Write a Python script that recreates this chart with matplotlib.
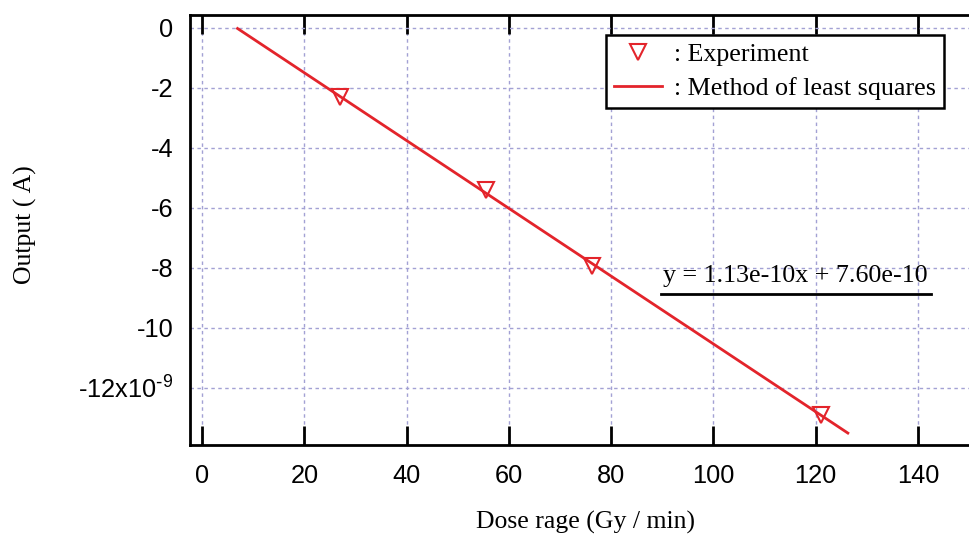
#%%
import matplotlib
matplotlib.use("Agg")
import matplotlib.pyplot as plt
from matplotlib.lines import Line2D
from matplotlib.ticker import FixedLocator, FixedFormatter

plt.rcParams["axes.unicode_minus"] = False

# %% data
dose = [26.9, 55.6, 76.3, 121.1]                    # Gy / min
output = [-2.32e-9, -5.40e-9, -7.95e-9, -12.90e-9]  # A

slope = -1.13e-10
intercept = 7.60e-10
fit_x = [6.9, 126.3]
fit_y = [slope * v + intercept for v in fit_x]

x_ticks = [0, 20, 40, 60, 80, 100, 120, 140]
y_ticks = [0, -2e-9, -4e-9, -6e-9, -8e-9, -10e-9, -12e-9]
y_labels = ["0", "-2", "-4", "-6", "-8", "-10", r"-12x10$^{\mathregular{\text{-}9}}$"]
eq_text = "y = 1.13e-10x + 7.60e-10"

red = "#e3242b"
sans = "Liberation Sans"
serif = "Liberation Serif"

# %%
fig = plt.figure(figsize=(9.69, 5.38), dpi=100)
ax = fig.add_axes([190 / 969, 93 / 538, 779 / 969, 430 / 538])

ax.plot(fit_x, fit_y, "-", color=red, lw=2)
ax.plot(dose, output, "v", mfc="none", mec=red, mew=1.5, ms=11.5, ls="none")

ax.set_xlim(-2.4, 150)
ax.set_ylim(-13.91e-9, 0.43e-9)

ax.xaxis.set_major_locator(FixedLocator(x_ticks))
ax.yaxis.set_major_locator(FixedLocator(y_ticks))
ax.yaxis.set_major_formatter(FixedFormatter(y_labels))

ax.grid(True, color="#a3a1d4", ls=(0, (2.5, 2.5)), lw=1)
ax.tick_params(axis="x", direction="in", length=14, width=2, top=True,
               labelsize=18.3, pad=14)
ax.tick_params(axis="y", length=0, labelsize=18.3, pad=12)
for lab in ax.get_xticklabels() + ax.get_yticklabels():
    lab.set_fontfamily(sans)

for s in ["left", "top", "bottom"]:
    ax.spines[s].set_linewidth(2)
ax.spines["right"].set_visible(False)

ax.set_xlabel("Dose rage (Gy / min)", fontfamily=serif, fontsize=18.5)
ax.set_ylabel("Output ( A)", fontfamily=serif, fontsize=18.5)
ax.xaxis.set_label_coords((585 - 190) / 779, (538 - 522 - 93) / 430)
ax.yaxis.set_label_coords((25 - 190) / 779, (538 - 225 - 93) / 430)
ax.xaxis.label.set_va("center")
ax.yaxis.label.set_va("center")

handles = [
    Line2D([], [], marker="v", mfc="none", mec=red, mew=1.5, ms=11.5, ls="none"),
    Line2D([], [], color=red, lw=2),
]
leg = ax.legend(handles, [": Experiment", ": Method of least squares"],
                loc="upper left", bbox_to_anchor=(606 / 969, 1 - 35 / 538),
                bbox_transform=fig.transFigure, borderaxespad=0,
                prop={"family": serif, "size": 18.7}, fancybox=False,
                framealpha=1, edgecolor="black", handlelength=1.85,
                handletextpad=0.45, borderpad=0.32, labelspacing=0.4)
leg.get_frame().set_linewidth(1.8)

ax.text((663 - 190) / 779, (538 - 282 - 93) / 430, eq_text, transform=ax.transAxes,
        fontfamily=serif, fontsize=18.7, ha="left", va="baseline")
ax.plot([(661 - 190) / 779, (931 - 190) / 779], [(538 - 294 - 93) / 430] * 2,
        color="black", lw=2, transform=ax.transAxes, clip_on=False)

fig.savefig("out.png", dpi=100)
